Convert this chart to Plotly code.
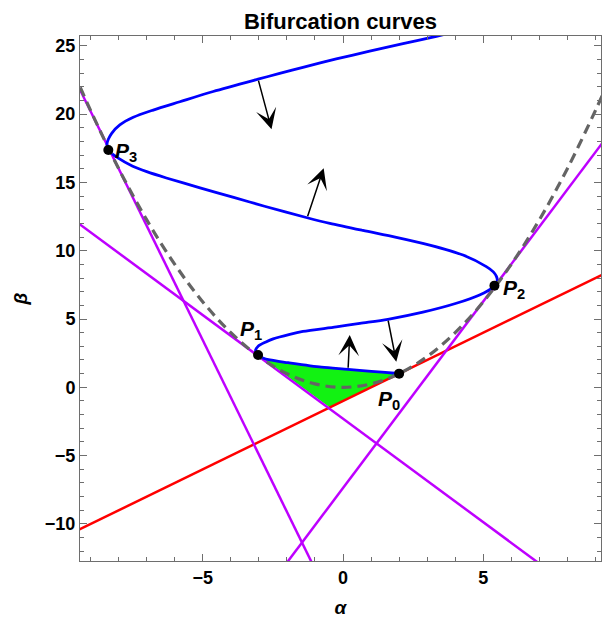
import plotly.graph_objects as go

# Special points on the fold curve (alpha, beta)
point_names = ["P0", "P1", "P2", "P3"]
point_alpha = [2.0, -3.03, 5.40, -8.37]
point_beta = [1.0, 2.37, 7.44, 17.37]

# Parabola beta = alpha^2/4 (dashed gray), sampled
parab_alpha = [-9.6, -9.0, -8.0, -7.0, -6.0, -5.0, -4.0, -3.0, -2.0, -1.0, 0.0,
               1.0, 2.0, 3.0, 4.0, 5.0, 6.0, 7.0, 8.0, 9.0, 9.4]
parab_beta = [23.04, 20.25, 16.0, 12.25, 9.0, 6.25, 4.0, 2.25, 1.0, 0.25, 0.0,
              0.25, 1.0, 2.25, 4.0, 6.25, 9.0, 12.25, 16.0, 20.25, 22.09]

# Tangent line at P0 (red)
red_alpha = [-9.6, 9.4]
red_beta = [-10.6, 8.4]

# Tangent lines at P1, P2, P3 (purple)
tan1_alpha = [-9.6, 7.2]
tan1_beta = [12.25, -13.2]
tan2_alpha = [-2.1, 9.4]
tan2_beta = [-13.1, 18.3]
tan3_alpha = [-9.6, -1.0]
tan3_beta = [22.7, -13.3]

# Bifurcation curve (blue), traced from P0 through P1, P2, P3 to the top
blue_alpha = [2.0, 1.85, 1.01, 0.18, -0.77, -1.96, -2.61, -2.86, -3.03,
              -3.12, -3.02, -2.75, -2.49, -1.9, -1.43, -0.24, 0.6, 1.6, 2.85,
              4.04, 4.87, 5.34, 5.40, 5.50, 5.47, 5.36, 5.11, 4.28, 3.09, 1.90,
              0.71, -0.47, -1.28, -2.8, -3.9, -5.1, -6.3, -7.0, -7.5,
              -8.0, -8.37, -8.42, -8.37, -8.25, -7.96, -7.48, -6.77, -5.82,
              -4.63, -3.03, -2.26, -1.43, -0.24, 0.95, 2.14, 3.33, 3.6]
blue_beta = [1.0, 1.03, 1.17, 1.32, 1.47, 1.80, 2.0, 2.15, 2.37,
             2.68, 3.02, 3.32, 3.55, 3.88, 4.09, 4.42, 4.68, 4.98, 5.50,
             6.15, 6.76, 7.30, 7.44, 7.80, 8.12, 8.45, 8.83, 9.68, 10.41, 10.98,
             11.48, 12.0, 12.41, 13.25, 13.9, 14.6, 15.32, 15.78, 16.18,
             16.75, 17.37, 17.80, 18.15, 18.59, 19.2, 19.76, 20.29, 20.90,
             21.65, 22.55, 22.97, 23.42, 24.03, 24.6, 25.15, 25.69, 25.82]

# Region between the lower blue branch and the two tangent lines (green)
green_alpha = [-3.03, -2.86, -2.61, -1.96, -0.77, 0.18, 1.01, 1.85, 2.0, -0.48, -3.03]
green_beta = [2.37, 2.15, 2.0, 1.80, 1.47, 1.32, 1.17, 1.03, 1.0, -1.45, 2.37]

# Direction arrows: (base alpha, base beta, tip alpha, tip beta)
arrow_base_alpha = [-3.03, -1.28, 0.18, 1.60]
arrow_base_beta = [22.55, 12.41, 1.32, 4.98]
arrow_tip_alpha = [-2.55, -0.69, 0.24, 1.90]
arrow_tip_beta = [18.88, 16.03, 3.83, 1.88]

x_range = [-9.38, 9.2]
y_range = [-12.71, 25.71]
x_ticks = [-5, 0, 5]
y_ticks = [-10, -5, 0, 5, 10, 15, 20, 25]

PURPLE = "rgb(190,0,255)"
FONT = "Liberation Sans, Arial, sans-serif"

fig = go.Figure()

fig.add_trace(go.Scatter(x=green_alpha, y=green_beta, mode="lines", fill="toself",
                         fillcolor="rgb(18,242,18)", line=dict(width=0),
                         hoverinfo="skip"))
fig.add_trace(go.Scatter(x=red_alpha, y=red_beta, mode="lines",
                         line=dict(color="rgb(255,0,0)", width=2.5)))
for xa, yb in [(tan1_alpha, tan1_beta), (tan2_alpha, tan2_beta), (tan3_alpha, tan3_beta)]:
    fig.add_trace(go.Scatter(x=xa, y=yb, mode="lines",
                             line=dict(color=PURPLE, width=2.5)))
fig.add_trace(go.Scatter(x=blue_alpha, y=blue_beta, mode="lines",
                         line=dict(color="rgb(0,0,255)", width=2.8, shape="spline",
                                   smoothing=0.8)))
fig.add_trace(go.Scatter(x=parab_alpha, y=parab_beta, mode="lines",
                         line=dict(color="rgb(100,100,100)", width=3.2, dash="10px,6px",
                                   shape="spline")))
fig.add_trace(go.Scatter(x=point_alpha, y=point_beta, mode="markers",
                         marker=dict(color="black", size=10)))

for bx, by, tx, ty in zip(arrow_base_alpha, arrow_base_beta, arrow_tip_alpha, arrow_tip_beta):
    fig.add_annotation(x=tx, y=ty, ax=bx, ay=by, xref="x", yref="y", axref="x", ayref="y",
                       text="", showarrow=True, arrowhead=3, arrowsize=2.3,
                       arrowwidth=1.5, arrowcolor="black", standoff=0, startstandoff=0)

# Point labels with subscripts
label_shift = {"P0": (-10, -26, "center"), "P1": (-7, 25, "center"),
               "P2": (7, -3, "left"), "P3": (5, -2, "left")}
for name, a, b in zip(point_names, point_alpha, point_beta):
    dx, dy, anchor = label_shift[name]
    fig.add_annotation(x=a, y=b, xref="x", yref="y", showarrow=False,
                       text="<b><i>P</i><sub>%s</sub></b>" % name[1],
                       font=dict(family=FONT, size=21, color="black"),
                       xanchor=anchor, yanchor="middle", xshift=dx, yshift=dy)

axis_common = dict(showline=True, linecolor="rgb(110,110,110)", linewidth=1,
                   mirror="ticks", ticks="inside", ticklen=7, tickwidth=1,
                   tickcolor="rgb(110,110,110)", showgrid=False, zeroline=False,
                   tickfont=dict(family=FONT, size=18, color="black", weight="bold"),
                   minor=dict(dtick=1, ticks="inside", ticklen=4, tickwidth=1,
                              tickcolor="rgb(110,110,110)", showgrid=False))

fig.update_layout(
    width=602, height=623,
    margin=dict(l=80, r=1, t=36, b=62),
    paper_bgcolor="white", plot_bgcolor="white",
    showlegend=False,
    title=dict(text="<b>Bifurcation curves</b>", x=0.5, xref="paper", y=0.966,
               yanchor="middle", font=dict(family=FONT, size=22, color="black")),
    xaxis=dict(range=x_range, tickvals=x_ticks, **axis_common,
               title=dict(text="<b><i>α</i></b>", standoff=14,
                          font=dict(family=FONT, size=19, color="black"))),
    yaxis=dict(range=y_range, tickvals=y_ticks, **axis_common,
               title=dict(text="<b><i>β</i></b>", standoff=12,
                          font=dict(family=FONT, size=19, color="black"))),
)

fig.write_html("out.html")
